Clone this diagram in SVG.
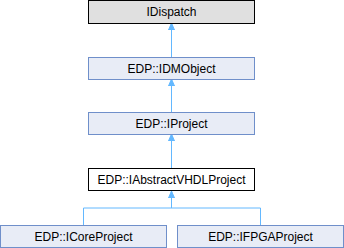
<svg xmlns="http://www.w3.org/2000/svg" width="344" height="248" viewBox="0 0 344 248">
<style>
.n{fill:#e8ecf6;stroke:#6f8fca;stroke-width:1}
.t{font-family:"Liberation Sans",Arial,sans-serif;font-size:12px;text-anchor:middle;fill:#000}
.e{fill:none;stroke:#63b8ff;stroke-width:1}
</style>
<defs>
<marker id="a" markerWidth="8" markerHeight="8" refX="0" refY="4" orient="auto" markerUnits="userSpaceOnUse" viewBox="0 0 8 8">
<path d="M7,4 L0,1 L0,7 Z" fill="#63b8ff" stroke="#63b8ff"/>
</marker>
</defs>
<rect width="344" height="248" fill="#fff"/>
<g id="connectors">
<path class="e" d="M171.5,57 V30" marker-end="url(#a)"/>
<path class="e" d="M171.5,113 V86" marker-end="url(#a)"/>
<path class="e" d="M171.5,168 V141" marker-end="url(#a)"/>
<path class="e" d="M83.5,225 V208 H260.5 V225"/>
<path class="e" d="M171.5,208 V198" marker-end="url(#a)"/>
</g>
<g id="IDispatch">
<rect x="88.5" y="0.5" width="166" height="23" fill="#e0e0e0" stroke="#000"/>
<text class="t" x="171.5" y="16">IDispatch</text>
</g>
<g id="IDMObject">
<rect class="n" x="88.5" y="57.5" width="166" height="22"/>
<text class="t" x="171.5" y="73">EDP::IDMObject</text>
</g>
<g id="IProject">
<rect class="n" x="88.5" y="112.5" width="166" height="22"/>
<text class="t" x="171.5" y="128">EDP::IProject</text>
</g>
<g id="IAbstractVHDLProject">
<rect x="88.5" y="168.5" width="166" height="22" fill="#fff" stroke="#000"/>
<text class="t" x="171.5" y="184">EDP::IAbstractVHDLProject</text>
</g>
<g id="ICoreProject">
<rect class="n" x="0.5" y="225.5" width="166" height="22"/>
<text class="t" x="83.5" y="241">EDP::ICoreProject</text>
</g>
<g id="IFPGAProject">
<rect class="n" x="177.5" y="225.5" width="166" height="22"/>
<text class="t" x="260.5" y="241">EDP::IFPGAProject</text>
</g>
</svg>
